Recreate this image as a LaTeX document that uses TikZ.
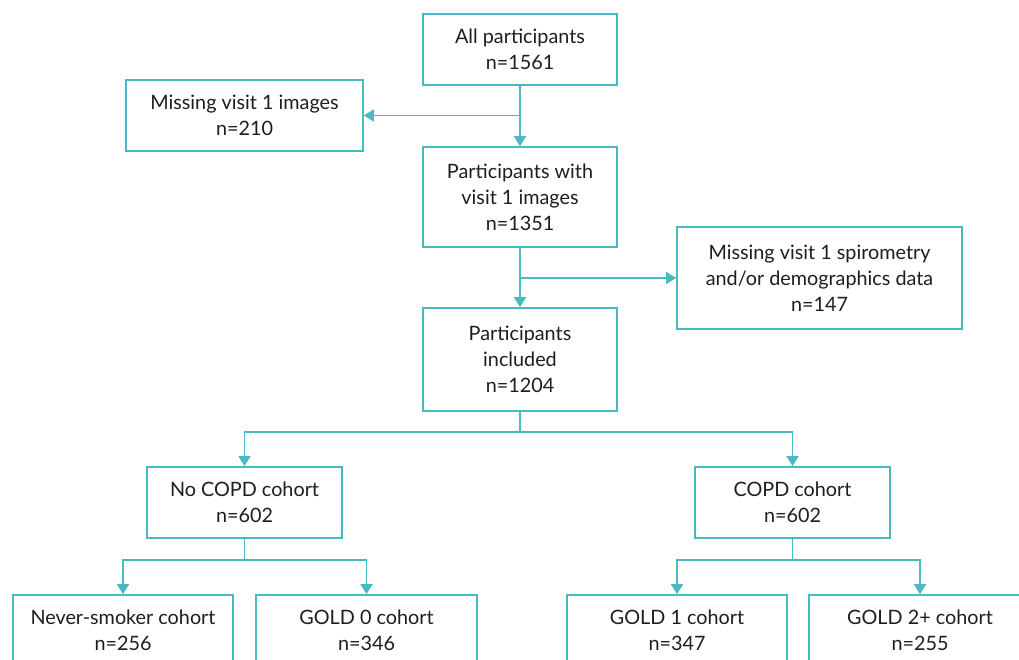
\documentclass[tikz,border=0pt]{standalone}
\usepackage{fontspec}
\setmainfont{Lato}
\usepackage{tikz}
\usetikzlibrary{arrows.meta,positioning}
\definecolor{flowTeal}{RGB}{72,187,194}
\definecolor{flowText}{RGB}{30,30,30}

\begin{document}
\begin{tikzpicture}[x=1pt,y=-1pt,
        stage/.style={draw=flowTeal, line width=1.8pt, align=center, text=flowText,
          font=\fontsize{19.8}{26}\selectfont, inner sep=0pt,
          execute at begin node={\rule{0pt}{20pt}}},
        flow/.style={->, flowTeal, line width=1.8pt},
        >={Triangle[length=10pt,width=12pt]}
      ]
        \useasboundingbox (0,0) rectangle (1019,660);

        % Screening
        \node[stage,minimum width=194pt,minimum height=71pt] (all) at (520,49.5) {All participants\\n=1561};
        \node[stage,minimum width=237pt,minimum height=71pt] (miss1) at (244.5,115.5) {Missing visit 1 images\\n=210};
        \node[stage,minimum width=194pt,minimum height=100pt] (with1) at (520,197) {Participants with\\visit 1 images\\n=1351};
        \node[stage,minimum width=285pt,minimum height=102pt] (miss2) at (819.5,278) {Missing visit 1 spirometry\\and/or demographics data\\n=147};
        \node[stage,minimum width=194pt,minimum height=103pt] (incl) at (520,359.5) {Participants\\included\\n=1204};

        % Cohorts
        \node[stage,minimum width=195pt,minimum height=71pt] (nocopd) at (244.5,502.5) {No COPD cohort\\n=602};
        \node[stage,minimum width=195pt,minimum height=71pt] (copd) at (792.5,502.5) {COPD cohort\\n=602};
        \node[stage,minimum width=220pt,minimum height=71pt] (never) at (123,630.5) {Never-smoker cohort\\n=256};
        \node[stage,minimum width=221pt,minimum height=71pt] (gold0) at (366.5,630.5) {GOLD 0 cohort\\n=346};
        \node[stage,minimum width=220pt,minimum height=71pt] (gold1) at (677,630.5) {GOLD 1 cohort\\n=347};
        \node[stage,minimum width=222pt,minimum height=71pt] (gold2) at (920,630.5) {GOLD 2+ cohort\\n=255};

        \coordinate (b1) at (all.south |- miss1.east);
        \coordinate (b2) at (with1.south |- miss2.west);
        \coordinate (s1) at (520,432);
        \coordinate (s2) at (244.5,560);
        \coordinate (s3) at (792.5,560);

        \draw[flow] (all.south) -- (with1.north);
        \draw[flow] (b1) -- (miss1.east);
        \draw[flow] (with1.south) -- (incl.north);
        \draw[flow] (b2) -- (miss2.west);
        \draw[flow] (incl.south) -- (s1) -| (nocopd.north);
        \draw[flow] (s1) -| (copd.north);
        \draw[flow] (nocopd.south) -- (s2) -| (never.north);
        \draw[flow] (s2) -| (gold0.north);
        \draw[flow] (copd.south) -- (s3) -| (gold1.north);
        \draw[flow] (s3) -| (gold2.north);
      \end{tikzpicture}
\end{document}
